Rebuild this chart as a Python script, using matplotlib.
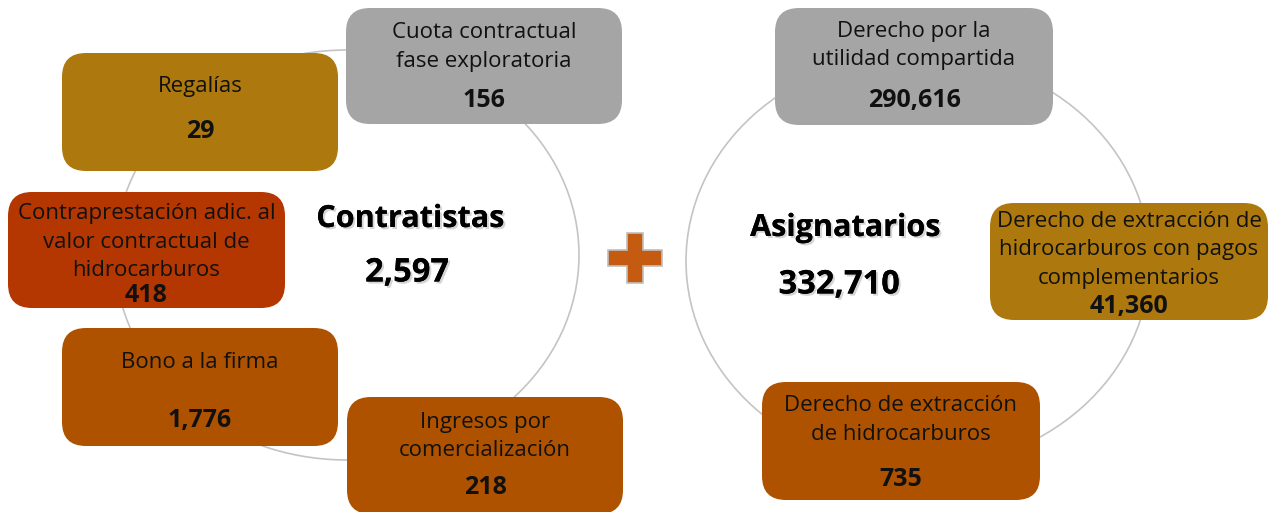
import matplotlib
matplotlib.use("Agg")
import matplotlib.pyplot as plt
from matplotlib.patches import FancyBboxPatch, Ellipse, Polygon
import matplotlib.patheffects as pe

plt.rcParams['font.family'] = ['Open Sans', 'DejaVu Sans']

# data
group_names = ["Contratistas", "Asignatarios"]
group_totals = [2597, 332710]

contratistas_labels = ["Cuota contractual\nfase exploratoria",
                       "Regalías",
                       "Contraprestación adic. al\nvalor contractual de\nhidrocarburos",
                       "Bono a la firma",
                       "Ingresos por\ncomercialización"]
contratistas_values = [156, 29, 418, 1776, 218]

asignatarios_labels = ["Derecho por la\nutilidad compartida",
                       "Derecho de extracción de\nhidrocarburos con pagos\ncomplementarios",
                       "Derecho de extracción\nde hidrocarburos"]
asignatarios_values = [290616, 41360, 735]

# layout (pixels): x0, y0, x1, y1, first text baseline, value baseline, colour
GRAY = "#A5A5A5"
GOLD = "#AD790E"
RED = "#B43600"
BROWN = "#AE5200"
left_boxes = [(346, 8, 622, 124, 38, 107, GRAY),
              (62, 53, 338, 171, 92, 138, GOLD),
              (8, 192, 285, 308, 219, 302, RED),
              (62, 328, 338, 446, 368, 427, BROWN),
              (347, 397, 623, 514, 428, 494, BROWN)]
right_boxes = [(775, 8, 1053, 125, 37, 107, GRAY),
               (990, 203, 1268, 320, 227, 313, GOLD),
               (762, 382, 1040, 500, 411, 486, BROWN)]

fig = plt.figure(figsize=(12.78, 5.12), dpi=100)
ax = fig.add_axes([0, 0, 1, 1])
ax.set_xlim(0, 1278)
ax.set_ylim(512, 0)
ax.axis('off')

# rings
ax.add_patch(Ellipse((347, 255), 464, 410, fill=False, edgecolor="#C4C4C4", lw=1.2, zorder=1))
ax.add_patch(Ellipse((918, 261), 464, 414, fill=False, edgecolor="#C4C4C4", lw=1.2, zorder=1))


def draw_boxes(labels, values, boxes):
    for lab, val, (x0, y0, x1, y1, tb, vb, col) in zip(labels, values, boxes):
        box = FancyBboxPatch((x0, y0), x1 - x0, y1 - y0,
                             boxstyle="round,pad=0,rounding_size=24",
                             facecolor=col, edgecolor="none", zorder=2)
        ax.add_patch(box)
        cx = (x0 + x1) / 2
        for i, line in enumerate(lab.split("\n")):
            ax.text(cx, tb + i * 28.5, line, ha='center', va='baseline',
                    fontsize=16, color="#111111", zorder=3)
        ax.text(cx, vb, f"{val:,}", ha='center', va='baseline',
                fontsize=18, fontweight='bold', color="#111111", zorder=3)


draw_boxes(contratistas_labels, contratistas_values, left_boxes)
draw_boxes(asignatarios_labels, asignatarios_values, right_boxes)

# centre titles with soft shadow
shadow = [pe.withSimplePatchShadow(offset=(1.5, -1.5), shadow_rgbFace='#888888', alpha=0.35), pe.Normal()]
ax.text(410, 219, group_names[0], ha='center', va='center', fontsize=22,
        fontweight='bold', color='black', path_effects=shadow, zorder=3)
ax.text(407, 273, f"{group_totals[0]:,}", ha='center', va='center', fontsize=23.5,
        fontweight='bold', color='black', path_effects=shadow, zorder=3)
ax.text(845, 228, group_names[1], ha='center', va='center', fontsize=22,
        fontweight='bold', color='black', path_effects=shadow, zorder=3)
ax.text(839, 285, f"{group_totals[1]:,}", ha='center', va='center', fontsize=23.5,
        fontweight='bold', color='black', path_effects=shadow, zorder=3)

# plus sign between the two rings
px, py, arm, half = 635, 257.5, 27, 8
plus = [(px - half, py - arm + 2), (px + half, py - arm + 2), (px + half, py - half),
        (px + arm, py - half), (px + arm, py + half), (px + half, py + half),
        (px + half, py + arm - 2), (px - half, py + arm - 2), (px - half, py + half),
        (px - arm, py + half), (px - arm, py - half), (px - half, py - half)]
ax.add_patch(Polygon(plus, closed=True, facecolor="#C55A11", edgecolor="#BFBFBF", lw=1.2, zorder=2))

fig.savefig("out.png", dpi=100)
